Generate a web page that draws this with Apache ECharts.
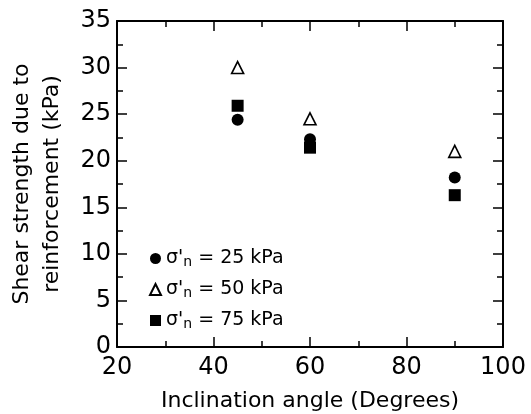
<!DOCTYPE html>
<html>
<head>
<meta charset="utf-8">
<script src="https://cdn.jsdelivr.net/npm/echarts@6/dist/echarts.min.js"></script>
<style>
  html, body { margin: 0; padding: 0; background: #fff; }
  #chart { width: 531px; height: 414px; }
</style>
</head>
<body>
<div id="chart"></div>
<script>
// inclination angle (degrees)
const angles = [45, 60, 90];
// shear strength due to reinforcement (kPa) for each normal stress
const s25 = [24.4, 22.3, 18.2];
const s50 = [30.0, 24.5, 21.0];
const s75 = [25.9, 21.4, 16.3];
const stressLabels = ['25', '50', '75'];

const chart = echarts.init(document.getElementById('chart'));
const font = 'DejaVu Sans, Verdana, sans-serif';

const pairs = (ys) => angles.map((a, i) => [a, ys[i]]);

// shared axis style
const tickStyle = {
    axisLine: { show: true, onZero: false, lineStyle: { color: '#000', width: 2 } },
    axisTick: { show: true, inside: true, length: 10, lineStyle: { color: '#000', width: 1.5 } },
    minorTick: { show: true, splitNumber: 2, length: 6, lineStyle: { color: '#000', width: 1.5 } },
    splitLine: { show: false }
};

const option = {
    backgroundColor: '#fff',
    animation: false,
    grid: { left: 117, right: 28, top: 21, bottom: 67, containLabel: false, outerBoundsMode: 'none' },
    legend: {
        orient: 'vertical',
        left: 144,
        top: 243,
        itemWidth: 11,
        itemHeight: 11,
        itemGap: 10,
        formatter: (name) => '{a|σ\'}{s|n}{a| = ' + name + ' kPa}',
        textStyle: {
            rich: {
                a: { fontFamily: font, fontSize: 19, color: '#000', lineHeight: 23 },
                s: { fontFamily: font, fontSize: 14, color: '#000', lineHeight: 23, padding: [7, 0, 0, 0] }
            }
        }
    },
    xAxis: [{
        type: 'value', min: 20, max: 100, interval: 20,
        name: 'Inclination angle (Degrees)', nameLocation: 'middle', nameGap: 43,
        nameMoveOverlap: false,
        nameTextStyle: { fontFamily: font, fontSize: 22, color: '#000' },
        axisLabel: { fontFamily: font, fontSize: 24, color: '#000', margin: 9 },
        ...tickStyle
    }, {
        type: 'value', min: 20, max: 100, interval: 20, position: 'top',
        axisLabel: { show: false },
        ...tickStyle
    }],
    yAxis: [{
        type: 'value', min: 0, max: 35, interval: 5,
        name: 'Shear strength due to\nreinforcement (kPa)', nameLocation: 'middle', nameGap: 50,
        nameMoveOverlap: false,
        nameTextStyle: { fontFamily: font, fontSize: 22, color: '#000', lineHeight: 30 },
        axisLabel: { fontFamily: font, fontSize: 24, color: '#000', margin: 6 },
        ...tickStyle
    }, {
        type: 'value', min: 0, max: 35, interval: 5, position: 'right',
        axisLabel: { show: false },
        ...tickStyle
    }],
    series: [{
        name: stressLabels[0], type: 'scatter', symbol: 'circle', symbolSize: 12,
        itemStyle: { color: '#000', opacity: 1 },
        data: pairs(s25)
    }, {
        name: stressLabels[1], type: 'scatter', symbol: 'triangle', symbolSize: 12,
        itemStyle: { color: '#fff', borderColor: '#000', borderWidth: 1.6, opacity: 1 },
        data: pairs(s50)
    }, {
        name: stressLabels[2], type: 'scatter', symbol: 'rect', symbolSize: 12,
        itemStyle: { color: '#000', opacity: 1 },
        data: pairs(s75)
    }]
};

chart.setOption(option);
</script>
</body>
</html>
